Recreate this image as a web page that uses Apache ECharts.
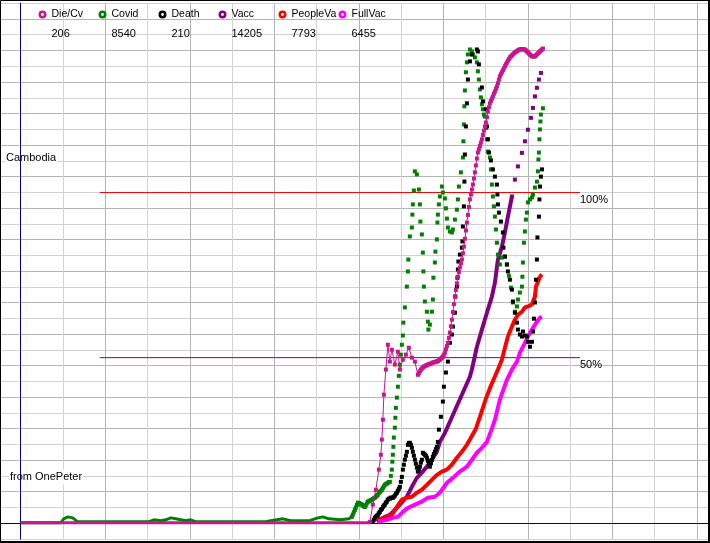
<!DOCTYPE html>
<html>
<head>
<meta charset="utf-8">
<script src="https://cdn.jsdelivr.net/npm/echarts/dist/echarts.min.js"></script>
<style>
  html, body { margin: 0; padding: 0; background: #fff; }
  #chart { width: 710px; height: 543px; }
</style>
</head>
<body>
<div id="chart"></div>
<script>
// day index -> value in percent (100 = the red 100% line)
const seriesNames = ['Die/Cv', 'Covid', 'Death', 'Vacc', 'PeopleVa', 'FullVac'];
const legendValues = ['206', '8540', '210', '14205', '7793', '6455'];

const dieCvEarly = [[0, 0], [349, 0]];
const dieCvLate = [[349,0.3],[352,5.5],[355,10],[358,16.1],[360,20.6],[361,25.2],[362,31.2],[363,38.8],[365,46.4],[367,53.9],[369,48.8],[371,52.4],[374,47.9],[377,51.8],[379,46.4],[382,49.4],[385,50.9],[388,53],[391,50],[394,48.8],[397,44.8],[398,45.3],[399,45.9],[400,46.4],[401,46.7],[402,47],[403,47.3],[404,47.4],[405,47.6],[406,47.7],[407,47.9],[408,48],[409,48.1],[410,48.2],[411,48.4],[412,48.5],[413,48.6],[414,48.7],[415,48.8],[416,48.8],[417,49],[418,49.2],[419,49.4],[420,49.7],[421,50],[422,50.3],[423,50.9],[424,51.5],[425,52.5],[426,53.5],[427,54.5],[428,56],[429,57.6],[430,59.5],[431,61.5],[432,63.8],[433,66.2],[434,68.5],[435,70.5],[436,72.5],[437,74.5],[438,75.9],[439,77.3],[440,78.5],[441,79.7],[442,81.6],[443,83.6],[444,86],[445,88.5],[446,90.9],[447,93.2],[448,95.6],[449,97.9],[450,99.4],[451,100.9],[452,102.4],[453,104.2],[454,106.1],[455,108.2],[456,110.3],[457,112.1],[458,113.1],[459,114.1],[460,115.1],[461,116.1],[462,117.4],[463,118.7],[464,120],[465,121.2],[466,122.8],[467,124.5],[468,125.8],[469,127],[470,127.7],[471,128.4],[472,129.1],[473,129.9],[474,130.6],[475,131.4],[476,132.1],[477,133.1],[478,134.2],[479,135.2],[480,135.8],[481,136.4],[482,137],[483,137.6],[484,138.2],[485,138.8],[486,139.3],[487,139.9],[488,140.4],[489,140.9],[490,141.2],[491,141.5],[492,141.8],[493,142.1],[494,142.4],[495,142.6],[496,142.8],[497,143],[498,143.2],[499,143.3],[500,143.4],[501,143.4],[502,143.4],[503,143.3],[504,143.3],[505,143],[506,142.7],[507,142.4],[508,142.1],[509,141.8],[510,141.5],[511,141.2],[512,141.2],[513,141.2],[514,141.2],[515,141.5],[516,141.8],[517,142.1],[518,142.4],[519,142.7],[520,143],[521,143.3],[522,143.6]];

const covidEarly = [[0,0],[40,0],[43,1.2],[47,1.8],[52,1.5],[57,0.3],[128,0.3],[133,0.9],[140,0.6],[145,0.9],[150,1.5],[155,1.2],[160,0.9],[165,0.6],[170,0.9],[175,0.3],[245,0.3],[250,0.6],[262,1.2],[270,0.6],[288,0.6],[297,1.5],[302,1.8],[308,1.2],[320,0.9],[328,1.2],[331,1.8]];
const covidLate = [[331,1.8],[332,2.5],[333,3.2],[334,3.9],[335,4.6],[336,5.4],[337,6.1],[338,6],[339,5.8],[340,5.6],[341,5.5],[342,5.2],[343,5],[344,4.8],[345,5.3],[346,5.9],[347,6.4],[348,6.5],[349,6.7],[350,6.8],[351,7],[352,7.2],[353,7.4],[354,7.6],[355,7.9],[356,8.2],[357,8.5],[358,9],[359,9.4],[360,9.7],[361,10],[362,10.5],[363,11],[364,11.5],[365,11.7],[366,11.9],[367,12.1],[368,12.3],[369,12.4],[370,14.2],[371,16.1],[371.5,18.5],[372,20.6],[372.5,23],[373,25.8],[374,28.8],[374.5,31.8],[375,34.8],[376,37.9],[377,41.2],[378,44.5],[379,47.9],[380,50.9],[381,53.9],[382,56.7],[382.5,60.6],[384,65.2],[386,71.5],[387,76.1],[387.5,79.7],[389,86.7],[391,89.4],[391.5,93.3],[392,96.4],[393,100.6],[394,106.4],[396,105.5],[398,100.9],[399,96.4],[399.5,91.2],[401,87.3],[402,81.8],[402.5,76.1],[403,71.5],[404,67],[406,63.9],[407,60.9],[407.5,58.5],[409,60],[411,63.9],[412,67.6],[412.5,74.2],[414,78.8],[414.5,82.1],[416,85.8],[416.5,90.9],[417,93.3],[418,96.4],[419,98.8],[421,101.8],[422,100],[424,98.2],[425,95.2],[426,92.1],[427,89.4],[429,88.2],[431,87.9],[432,88.8],[434,91.8],[436,94.8],[437,97.9],[438,101.8],[440,106.1],[442,110.6],[442.5,115.5],[443,120.6],[443.5,126.1],[444,130.9],[445,136.4],[446,139.4],[447,141.8],[449,143.3],[451,142.7],[452,141.8],[454,140.9],[456,139.4],[457,136.7],[458,134.2],[459,131.2],[460,128.8],[461,126.7],[462,125.2],[463,123.6],[464,123],[465,119.5],[466,116.1],[467,112.4],[469,110.6],[470,107],[471,102.4],[472,98.8],[473,95.8],[474,92.7],[475,88.8],[476,84.8],[477,81.2],[479,78.2],[481,80.3],[484,80.6],[486,78.2],[488,74.8],[490,71.2],[492,66.7],[494,63.9],[496,65.5],[497,67.6],[499,69.7],[501,71.5],[501.5,74.5],[502,78.8],[503,84.8],[504,88.2],[505,91.8],[506,93.9],[507,97],[509,97.9],[511,98.5],[512,99.4],[514,101.5],[516,103.3],[517,106.4],[517.5,110],[518,112.1],[518.5,116.1],[519,119.1],[519.5,121.5],[520,123.6],[522,125.5]];

const death = [[352,0.3],[353,0.9],[354,1.5],[355,1.8],[356,2.1],[357,2.4],[358,2.9],[359,3.3],[360,3.9],[361,4.2],[362,4.8],[363,5.2],[364,5.5],[365,6.1],[366,6.4],[367,7],[368,7.3],[369,7.3],[370,7.6],[371,7.6],[372,7.6],[373,7.9],[374,8.2],[375,8.8],[376,9.1],[377,9.7],[378,10.3],[379,10.9],[380,12.4],[381,13.9],[382,16.1],[383,17.6],[384,19.1],[385,20.3],[386,21.5],[387,23.6],[388,24.2],[389,24.2],[390,23.6],[391,22.7],[392,21.5],[393,20.3],[394,19.1],[395,17.9],[396,16.7],[397,15.5],[398,16.1],[399,17],[400,18.2],[401,19.1],[402,21.2],[403,20.9],[404,20.6],[405,20.3],[406,19.7],[407,18.8],[408,17.9],[409,17],[410,18],[411,19],[412,20],[413,20.8],[414,21.5],[415,22.3],[416,23],[417,24.5],[418,28.2],[420,32.1],[422,36.7],[423,41.2],[425,45.5],[427,48.8],[429,54.5],[431,57],[432,59.4],[434,63.6],[434.5,68.5],[436,71.5],[436.5,74.2],[437,76.7],[437.5,79.1],[439,81.2],[441,83.3],[441.5,85.2],[442,89.7],[443,95.8],[443.5,103.3],[444,111.5],[445,120],[446,127],[447,134.2],[449,139.7],[451,141.8],[456,143.3],[457,142.7],[458,138.8],[461,131.8],[462,127.6],[465,125.2],[466,120],[467,116.1],[468,112.1],[470,109.7],[472,107],[474,104.8],[476,102.4],[476.5,99.4],[477,96.4],[478,93.9],[480,91.2],[482,87.9],[482.5,83.3],[484,80.6],[486,78.2],[487,76.1],[489,73.6],[491,70.6],[492,67],[494,63.6],[496,60.6],[497,58.5],[499,57],[501,56.4],[502,57.9],[504,56.7],[506,56.4],[507,54.8],[509,53.3],[511,54.8],[512,57.9],[513,61.8],[514,66.7],[515,73.6],[516,79.7],[516.5,86.4],[518,92.7],[518.5,97.9],[519,101.8],[520,104.8],[521,107]];

const vacc = [[356,0.3],[362,1.5],[369,2.4],[374,3.9],[379,5.5],[386,7.9],[391,10.9],[396,13.6],[401,15.2],[406,17],[411,19.1],[416,21.5],[419,24.5],[424,27.2],[429,30.6],[434,34],[439,37.4],[444,40.8],[449,44.2],[451,46.4],[456,53.3],[461,58.5],[466,63.6],[471,68.5],[474,72.7],[477,79.7],[481,83.6],[484,87.9],[487,92.7],[491,98.8]];
const vaccTop = [[491,98.8],[494,103.9],[497,107.9],[501,112],[504,115.5],[507,119],[510,122.6],[512,125.6],[514,129.1],[516,131.7],[518,134.2],[520,136.2]];

const peopleVa = [[357,1],[364,1.5],[371,2.4],[376,4.8],[381,7],[386,7.6],[391,7.9],[396,9.1],[401,10],[406,11.5],[411,13],[416,14.5],[421,15.5],[426,16.1],[431,17.6],[436,19.7],[441,21.5],[446,23.6],[449,25.2],[455,28.5],[460,33],[465,37.6],[470,41.5],[477,46.4],[481,49.4],[484,53],[487,56.4],[491,59.4],[494,61.5],[497,63],[501,63.9],[504,65.2],[507,65.5],[511,66.1],[512,66.7],[514,68.5],[515,71.5],[517,73],[519,74.5],[521,75.2]];

const fullVac = [[357,0.3],[366,0.9],[372,1.5],[377,1.8],[382,3.3],[387,4.5],[394,5.5],[401,6.4],[407,7.6],[414,7.9],[419,9.1],[426,12.1],[432,13.6],[439,15.5],[446,17],[451,19.1],[456,21.2],[461,22.7],[466,24.5],[471,28.5],[474,31.2],[479,37.3],[486,43.3],[491,46.4],[496,48.8],[499,51.5],[504,54.5],[507,56.4],[511,58.5],[516,60.9],[519,62.1],[521,62.4]];

// reference levels drawn across the chart
const refLevels = [100, 50];
const refLabels = ['100%', '50%'];
const refSpan = [79, 559];

const colors = {
  'Die/Cv': '#c8168e', 'Covid': '#008000', 'Death': '#000000',
  'Vacc': '#800080', 'PeopleVa': '#ff0000', 'FullVac': '#ff00ff'
};
const refColors = ['#ff0000', '#800080'];

const DAYS = 676;           // 16 grid columns
const ROW = 4.771;          // percent per grid row
const SHIFT = 0.133;        // puts the 100% level on a pixel row
const FAMILY = '"Liberation Sans", Arial, sans-serif';
const FONT = '11px ' + FAMILY;
const ringIcon = 'path://M4,0A4,4,0,1,1,4,8A4,4,0,1,1,4,0ZM4,2.6A1.4,1.4,0,1,0,4,5.4A1.4,1.4,0,1,0,4,2.6Z';

const chart = echarts.init(document.getElementById('chart'), null, { renderer: 'canvas' });

function dots(name, data, z, lineWidth) {
  return {
    name, type: 'line', xAxisIndex: 1, yAxisIndex: 1, data, z,
    symbol: 'rect', symbolSize: 4, showSymbol: true, showAllSymbol: true,
    itemStyle: { color: colors[name], borderWidth: 0 },
    lineStyle: lineWidth ? { color: colors[name], width: lineWidth } : { opacity: 0 },
    emphasis: { disabled: true }
  };
}
function solid(name, data, z, width) {
  return {
    name, type: 'line', xAxisIndex: 1, yAxisIndex: 1, data, z,
    showSymbol: false, symbol: 'none',
    itemStyle: { color: colors[name] },
    lineStyle: { color: colors[name], width: width },
    emphasis: { disabled: true }
  };
}
function levelSeries(i) {
  return {
    name: refLabels[i], type: 'line', xAxisIndex: 1, yAxisIndex: 1, z: 2, silent: true,
    data: refSpan.map((d) => [d, refLevels[i]]),
    showSymbol: false, symbol: 'none',
    itemStyle: { color: refColors[i] },
    lineStyle: { color: refColors[i], width: 1 },
    endLabel: { show: true, formatter: refLabels[i], color: '#000', fontSize: 11,
                fontFamily: FAMILY, distance: 0, offset: [0, 7] },
    emphasis: { disabled: true }
  };
}

const option = {
  animation: false,
  backgroundColor: '#fff',
  textStyle: { fontFamily: FAMILY },
  grid: [
    { left: 0, right: 0, top: 3.2, bottom: 4 },
    { left: 20.7, right: 13, top: 3.2, bottom: 4 }
  ],
  xAxis: [
    { gridIndex: 0, type: 'value', min: 0, max: 1, z: 1.5,
      axisLine: { onZero: true, lineStyle: { color: '#000080', width: 1 } },
      axisTick: { show: false }, axisLabel: { show: false }, splitLine: { show: false } },
    { gridIndex: 1, type: 'value', min: 0, max: DAYS, interval: DAYS / 16, z: 0,
      axisLine: { show: false }, axisTick: { show: false }, axisLabel: { show: false },
      splitLine: { show: true, lineStyle: { color: ['#b4b4b4', '#d2d2d2'], width: 1 } } }
  ],
  yAxis: [
    { gridIndex: 0, type: 'value', min: -1, max: 33, interval: 1, z: 0,
      axisLine: { show: false }, axisTick: { show: false }, axisLabel: { show: false },
      splitLine: { show: true, lineStyle: { color: ['#d2d2d2', '#b4b4b4'], width: 1 } } },
    { gridIndex: 1, type: 'value', min: -ROW - SHIFT, max: 33 * ROW - SHIFT, z: 1.5,
      axisLine: { show: true, lineStyle: { color: '#000080', width: 1 } },
      axisTick: { show: false }, axisLabel: { show: false }, splitLine: { show: false } }
  ],
  legend: seriesNames.map((name, i) => ({
    data: [name], left: 38.5 + 60 * i, top: 9, padding: 0,
    itemWidth: 8, itemHeight: 8, icon: ringIcon, selectedMode: false,
    itemStyle: { borderWidth: 0 },
    textStyle: { color: '#000', fontSize: 10.5, fontFamily: FAMILY }
  })),
  graphic: [
    ...legendValues.map((v, i) => ({
      type: 'text', left: 51.5 + 60 * i, top: 28, z: 5,
      style: { text: v, font: FONT, fill: '#000' }
    })),
    { type: 'text', left: 5, top: 150.5, z: 1,
      style: { text: 'Cambodia', font: FONT, fill: '#000', backgroundColor: '#fff', padding: [2, 1] } },
    { type: 'text', left: 9, top: 469.5, z: 1,
      style: { text: 'from OnePeter', font: FONT, fill: '#000', backgroundColor: '#fff', padding: [2, 1] } },
    { type: 'polyline', z: 10, silent: true,
      shape: { points: [[0.5, 543], [0.5, 0.5], [709, 0.5]] },
      style: { stroke: '#000', lineWidth: 1, fill: null } },
    { type: 'polyline', z: 10, silent: true,
      shape: { points: [[0, 542], [709, 542], [709, 0]] },
      style: { stroke: '#000', lineWidth: 2, fill: null } }
  ],
  series: [
    levelSeries(0),
    levelSeries(1),
    solid('Vacc', vacc, 3, 4),
    dots('Vacc', vaccTop, 3, 0),
    solid('PeopleVa', peopleVa, 3, 4),
    solid('FullVac', fullVac, 3, 4),
    solid('Covid', covidEarly, 3, 3),
    dots('Covid', covidLate, 3, 0),
    dots('Death', death, 4, 0),
    solid('Die/Cv', dieCvEarly, 5, 3),
    dots('Die/Cv', dieCvLate, 5, 1)
  ]
};

chart.setOption(option);
</script>
</body>
</html>
